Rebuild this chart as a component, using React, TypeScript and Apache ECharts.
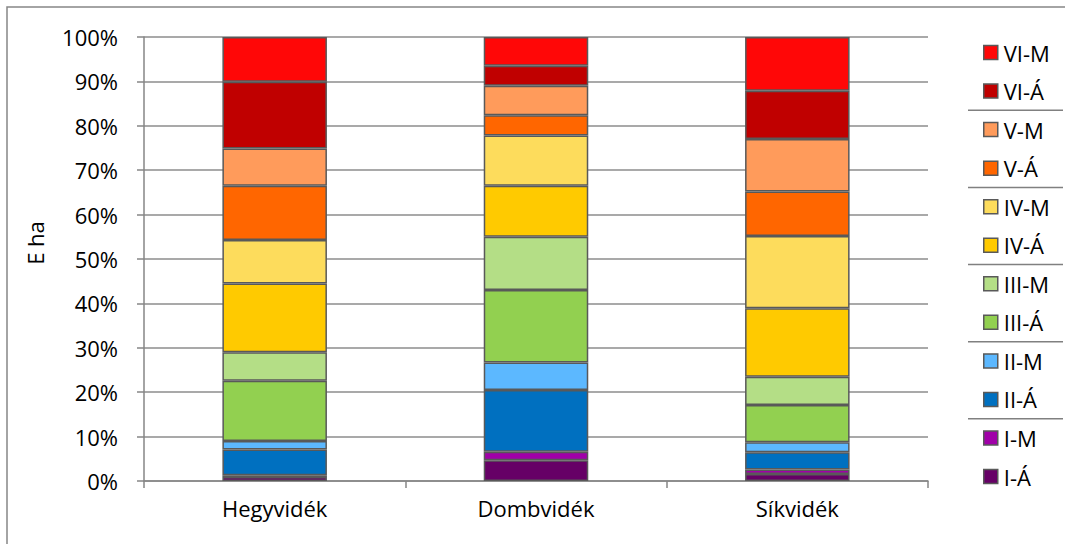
import React, { useEffect, useRef } from "react";
import * as echarts from "echarts";

const categories = ["Hegyvidék", "Dombvidék", "Síkvidék"];
const seriesNames = ["I-Á", "I-M", "II-Á", "II-M", "III-Á", "III-M", "IV-Á", "IV-M", "V-Á", "V-M", "VI-Á", "VI-M"];
const colors = ["#660066", "#A000A8", "#0070C0", "#5CB8FF", "#92D050", "#B4DE86", "#FFCA00", "#FDDC5C", "#FF6600", "#FF9B5B", "#C00000", "#FF0707"];
// percent share per class: [Hegyvidék, Dombvidék, Síkvidék]
const vIA = [0.9, 4.7, 1.6];
const vIM = [0.4, 1.9, 1.0];
const vIIA = [5.8, 13.9, 3.9];
const vIIM = [1.9, 6.2, 2.2];
const vIIIA = [13.6, 16.3, 8.4];
const vIIIM = [6.4, 12.0, 6.4];
const vIVA = [15.5, 11.5, 15.4];
const vIVM = [9.8, 11.3, 16.3];
const vVA = [12.2, 4.6, 10.0];
const vVM = [8.4, 6.6, 11.8];
const vVIA = [15.0, 4.5, 10.9];
const vVIM = [10.1, 6.5, 12.1];
const values = [vIA, vIM, vIIA, vIIM, vIIIA, vIIIM, vIVA, vIVM, vVA, vVM, vVIA, vVIM];
const yTicks = { min: 0, max: 100, interval: 10 };
const yName = "E ha";

const FONT = "'Open Sans', sans-serif";

export default function App() {
  const ref = useRef<HTMLDivElement>(null);
  useEffect(() => {
    document.body.style.margin = "0";
    const chart = echarts.init(ref.current!, null, { renderer: "svg" });
    const legendTop0 = 52.5;
    const legendStep = 38.55;
    const legendOrder = [...seriesNames].reverse();
    const legends = legendOrder.map((name, i) => ({
      data: [name],
      orient: "vertical",
      left: 983,
      top: legendTop0 + legendStep * i - 12,
      padding: 0,
      itemWidth: 14,
      itemHeight: 14,
      itemGap: 0,
      icon: "rect",
      textStyle: { fontFamily: FONT, fontSize: 22, color: "#000", lineHeight: 24, padding: [0, 0, 0, 1] },
      selectedMode: false,
      itemStyle: { borderColor: "#595959", borderWidth: 1.5 },
    }));
    const sepLines = [1.5, 3.5, 5.5, 7.5, 9.5].map((k) => ({
      type: "line",
      shape: { x1: 968, y1: legendTop0 + legendStep * k, x2: 1063, y2: legendTop0 + legendStep * k },
      style: { stroke: "#808080", lineWidth: 1.5 },
    }));
    chart.setOption({
      animation: false,
      backgroundColor: "#fff",
      grid: { left: 144, right: 137, top: 37, bottom: 63, containLabel: false },
      legend: legends,
      xAxis: {
        type: "category",
        data: categories,
        axisLine: { lineStyle: { color: "#868686", width: 1.5 } },
        axisTick: { show: true, length: 7, lineStyle: { color: "#868686", width: 1.5 } },
        axisLabel: { fontFamily: FONT, fontSize: 22, color: "#000", margin: 16 },
      },
      yAxis: {
        type: "value",
        min: yTicks.min,
        max: yTicks.max,
        interval: yTicks.interval,
        axisLine: { show: true, lineStyle: { color: "#868686", width: 1.5 } },
        axisTick: { show: true, length: 7, lineStyle: { color: "#868686", width: 1.5 } },
        axisLabel: { fontFamily: FONT, fontSize: 22, color: "#000", margin: 26, formatter: "{value}%" },
        splitLine: { show: true, lineStyle: { color: "#8C8C8C", width: 1.5 } },
      },
      series: seriesNames.map((name, i) => ({
        name,
        type: "bar",
        stack: "total",
        barWidth: "40%",
        data: values[i],
        itemStyle: { color: colors[i], borderColor: "#595959", borderWidth: 1.5 },
      })),
      graphic: [
        {
          type: "rect",
          shape: { x: 7, y: 7, width: 1100, height: 600 },
          style: { fill: "none", stroke: "#868686", lineWidth: 1.5 },
          silent: true,
        },
        {
          type: "text",
          x: 35,
          y: 243,
          rotation: Math.PI / 2,
          style: { text: yName, fontFamily: FONT, fontSize: 22, fill: "#000", align: "center", verticalAlign: "middle" },
        },
        ...sepLines,
      ],
    });
    return () => chart.dispose();
  }, []);
  return <div ref={ref} style={{ width: 1065, height: 544 }} />;
}
